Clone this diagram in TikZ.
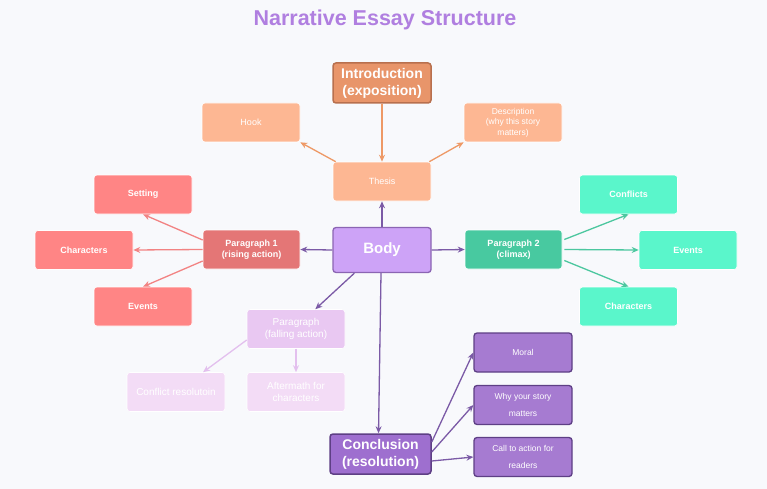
\documentclass[tikz,border=0pt]{standalone}
\usepackage{fontspec}
\setmainfont{Liberation Sans}
\usetikzlibrary{arrows.meta}
\definecolor{bgc}{HTML}{F8F9FC}
\definecolor{titlec}{HTML}{B07FE0}
\definecolor{introf}{HTML}{E8956A}
\definecolor{introb}{HTML}{B8704E}
\definecolor{peach}{HTML}{FDB793}
\definecolor{oarrow}{HTML}{EE9966}
\definecolor{redmain}{HTML}{E47676}
\definecolor{redbox}{HTML}{FF8585}
\definecolor{redarrow}{HTML}{F28383}
\definecolor{grmain}{HTML}{48C9A0}
\definecolor{grbox}{HTML}{5AF6CB}
\definecolor{grarrow}{HTML}{4CC79F}
\definecolor{bodyf}{HTML}{CDA3F7}
\definecolor{bodyb}{HTML}{8B65B3}
\definecolor{parrow}{HTML}{7B5AA6}
\definecolor{fallf}{HTML}{E9C8F2}
\definecolor{fallsub}{HTML}{F3DCF6}
\definecolor{fallarrow}{HTML}{E3C0EE}
\definecolor{conf}{HTML}{9E6FCF}
\definecolor{conb}{HTML}{5E3F85}
\definecolor{consub}{HTML}{A67BD1}
\tikzset{
  x=1pt, y=-1pt,
  box/.style={rectangle, rounded corners=3pt, minimum width=98pt, minimum height=39pt,
    align=center, text=white, inner sep=2pt, font=\fontsize{9}{11.5}\selectfont, draw=white, line width=0.6pt},
  boldbox/.style={box, font=\fontsize{9}{11.5}\selectfont\bfseries},
  bigbox/.style={box, font=\fontsize{14}{17}\selectfont\bfseries, line width=1.5pt},
  arr/.style={-{Stealth[length=7pt,width=6pt]}, line width=1.3pt},
}
\begin{document}
\begin{tikzpicture}
\useasboundingbox[fill=bgc] (0,0) rectangle (767,489);
\node[font=\fontsize{21.5}{25}\selectfont\bfseries, text=titlec] (title) at (385,20) {Narrative Essay Structure};

% Introduction group
\node[bigbox, fill=introf, draw=introb, minimum height=40pt] (intro) at (382,83) {Introduction\\(exposition)};
\node[box, fill=peach] (hook) at (251,122.5) {Hook};
\node[box, fill=peach, font=\fontsize{8.5}{10.5}\selectfont] (desc) at (513,122.5) {Description\\(why this story\\matters)};
\node[box, fill=peach] (thesis) at (382,181.5) {Thesis};

% Body
\node[box, fill=bodyf, draw=bodyb, line width=1.3pt, minimum height=45pt, font=\fontsize{15}{18}\selectfont\bfseries] (body) at (382,250) {Body};

% Paragraph 1
\node[boldbox, fill=redmain, minimum width=97pt] (p1) at (251.5,249.5) {Paragraph 1\\(rising action)};
\node[boldbox, fill=redbox] (setting) at (143,194.5) {Setting};
\node[boldbox, fill=redbox] (charL) at (84,250) {Characters};
\node[boldbox, fill=redbox] (eventsL) at (143,306.5) {Events};

% Paragraph 2
\node[boldbox, fill=grmain, minimum width=97pt] (p2) at (513.5,249.5) {Paragraph 2\\(climax)};
\node[boldbox, fill=grbox] (conflicts) at (628.5,194.5) {Conflicts};
\node[boldbox, fill=grbox] (eventsR) at (688,250) {Events};
\node[boldbox, fill=grbox] (charR) at (628.5,306.5) {Characters};

% Falling action
\node[box, fill=fallf, font=\fontsize{10}{12.5}\selectfont] (fall) at (296,329) {Paragraph\\(falling action)};
\node[box, fill=fallsub, font=\fontsize{10}{12.5}\selectfont] (cres) at (176,392) {Conflict resolutoin};
\node[box, fill=fallsub, font=\fontsize{10}{12.5}\selectfont] (after) at (296,392) {Aftermath for\\characters};

% Conclusion
\node[bigbox, fill=conf, draw=conb, minimum width=101pt, minimum height=40pt] (concl) at (380.5,454) {Conclusion\\(resolution)};
\node[box, fill=consub, draw=conb, line width=1.3pt, font=\fontsize{8.5}{10.5}\selectfont] (moral) at (523,352.5) {Moral};
\node[box, fill=consub, draw=conb, line width=1.3pt, font=\fontsize{8.5}{17}\selectfont] (why) at (523,405) {Why your story\\matters};
\node[box, fill=consub, draw=conb, line width=1.3pt, font=\fontsize{8.5}{17}\selectfont] (call) at (523,457) {Call to action for\\readers};

% Arrows: introduction
\draw[arr, oarrow] (intro.south) -- (thesis.north);
\draw[arr, oarrow] ([xshift=3pt]thesis.north west) -- (hook.south east);
\draw[arr, oarrow] ([xshift=-2pt]thesis.north east) -- (desc.south west);

% Arrows: body
\draw[arr, parrow] (body.north) -- (thesis.south);
\draw[arr, parrow] (body.west) -- (p1.east);
\draw[arr, parrow] (body.east) -- (p2.west);
\draw[arr, parrow] ([xshift=22pt]body.south west) -- ([xshift=-30pt]fall.north east);
\draw[arr, parrow] ([xshift=-1pt]body.south) -- ([xshift=-2pt]concl.north);

% Arrows: paragraph 1
\draw[arr, redarrow] ([yshift=9.5pt]p1.west) -- (setting.south);
\draw[arr, redarrow] (p1.west) -- (charL.east);
\draw[arr, redarrow] ([yshift=-11.5pt]p1.west) -- (eventsL.north);

% Arrows: paragraph 2
\draw[arr, grarrow] ([xshift=2pt,yshift=10pt]p2.east) -- (conflicts.south);
\draw[arr, grarrow] ([xshift=2pt]p2.east) -- (eventsR.west);
\draw[arr, grarrow] ([xshift=2pt,yshift=-11pt]p2.east) -- (charR.north);

% Arrows: falling action
\draw[arr, fallarrow] ([yshift=-11pt]fall.west) -- ([xshift=27pt]cres.north);
\draw[arr, fallarrow] (fall.south) -- (after.north);

% Arrows: conclusion
\draw[arr, parrow] ([yshift=12pt]concl.east) -- (moral.west);
\draw[arr, parrow] ([yshift=2pt]concl.east) -- (why.west);
\draw[arr, parrow] ([yshift=-7pt]concl.east) -- (call.west);
\end{tikzpicture}
\end{document}
